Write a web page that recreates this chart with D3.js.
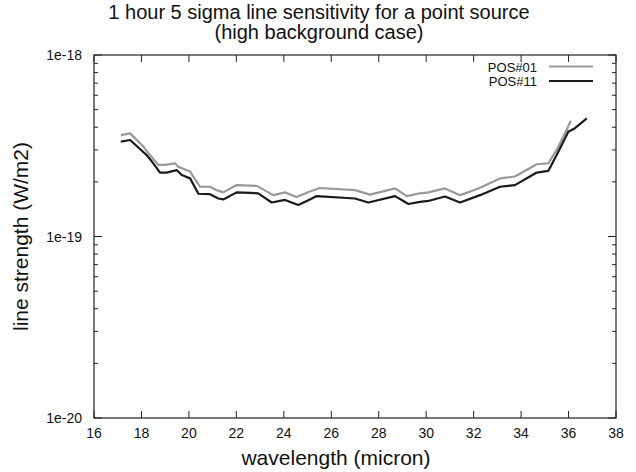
<!DOCTYPE html>
<html>
<head>
<meta charset="utf-8">
<script src="https://d3js.org/d3.v7.min.js"></script>
<style>
  body { margin: 0; background: #fff; }
  text { font-family: "Liberation Sans", Arial, sans-serif; fill: #111; }
</style>
</head>
<body>
<div id="svg_area"></div>
<script>
// wavelength (micron) and line strength (W/m2)
var pos01Wave = [17.13, 17.52, 18.08, 18.36, 18.71, 18.99, 19.41, 19.55, 20.05, 20.47, 20.89, 21.17, 21.45,
		 22.01, 22.86, 23.56, 24.05, 24.54, 25.10, 25.52, 27.00, 27.63, 28.69, 29.18, 29.74, 30.09,
		 30.79, 31.43, 32.20, 33.11, 33.74, 34.66, 35.15, 35.50, 35.92, 36.09];
var pos01Flux = [3.62e-19, 3.70e-19, 3.13e-19, 2.81e-19, 2.48e-19, 2.48e-19, 2.53e-19, 2.42e-19, 2.28e-19,
		 1.88e-19, 1.88e-19, 1.80e-19, 1.75e-19, 1.92e-19, 1.90e-19, 1.69e-19, 1.75e-19, 1.65e-19,
		 1.77e-19, 1.85e-19, 1.80e-19, 1.70e-19, 1.84e-19, 1.67e-19, 1.73e-19, 1.75e-19, 1.84e-19,
		 1.69e-19, 1.84e-19, 2.09e-19, 2.14e-19, 2.50e-19, 2.53e-19, 3.00e-19, 3.86e-19, 4.35e-19];

var pos11Wave = [17.13, 17.52, 17.80, 18.22, 18.50, 18.78, 19.06, 19.49, 19.70, 20.05, 20.40, 20.89, 21.24,
		 21.45, 22.01, 22.92, 23.49, 24.05, 24.61, 25.10, 25.39, 27.00, 27.56, 28.69, 29.25, 29.74,
		 30.09, 30.79, 31.43, 32.27, 33.11, 33.74, 34.66, 35.15, 35.50, 35.99, 36.27, 36.77];
var pos11Flux = [3.33e-19, 3.40e-19, 3.15e-19, 2.81e-19, 2.53e-19, 2.25e-19, 2.25e-19, 2.32e-19, 2.18e-19,
		 2.09e-19, 1.72e-19, 1.71e-19, 1.62e-19, 1.60e-19, 1.75e-19, 1.73e-19, 1.54e-19, 1.59e-19,
		 1.49e-19, 1.60e-19, 1.67e-19, 1.62e-19, 1.54e-19, 1.67e-19, 1.51e-19, 1.55e-19, 1.57e-19,
		 1.66e-19, 1.54e-19, 1.69e-19, 1.88e-19, 1.92e-19, 2.25e-19, 2.30e-19, 2.81e-19, 3.78e-19,
		 3.95e-19, 4.48e-19];

var xTicks = [16, 18, 20, 22, 24, 26, 28, 30, 32, 34, 36, 38];
var yTicks = [1e-20, 1e-19, 1e-18];
var yTickLabels = ["1e-20", "1e-19", "1e-18"];
var seriesNames = ["POS#01", "POS#11"];

var svg = d3.select('#svg_area').append("svg").attr("width", 636).attr("height", 472),
    margin = {top: 55, right: 20, bottom: 54, left: 94},
    width = 636 - margin.left - margin.right,
    height = 472 - margin.top - margin.bottom,
    g = svg.append("g").attr("transform", "translate(" + margin.left + "," + margin.top + ")");

var x = d3.scaleLinear().domain([16, 38]).range([0, width]);
var y = d3.scaleLog().domain([1e-20, 1e-18]).range([height, 0]);

// minor ticks for the log axis
var minor = [];
[1e-20, 1e-19].forEach(function(dec) {
    for (var k = 2; k <= 9; k++) minor.push(dec * k);
});

var line = d3.line()
    .x(function(d) { return x(d[0]); })
    .y(function(d) { return y(d[1]); });

// ticks (gnuplot style, pointing inward on all four sides)
var tickColor = "#222";
g.selectAll(".xt").data(xTicks).enter().append("line")
    .attr("x1", function(d) { return x(d); }).attr("x2", function(d) { return x(d); })
    .attr("y1", height).attr("y2", height - 7)
    .attr("stroke", tickColor);
g.selectAll(".xtt").data(xTicks).enter().append("line")
    .attr("x1", function(d) { return x(d); }).attr("x2", function(d) { return x(d); })
    .attr("y1", 0).attr("y2", 7)
    .attr("stroke", tickColor);

g.selectAll(".ym").data(yTicks).enter().append("line")
    .attr("x1", 0).attr("x2", 8)
    .attr("y1", function(d) { return y(d); }).attr("y2", function(d) { return y(d); })
    .attr("stroke", tickColor);
g.selectAll(".ymr").data(yTicks).enter().append("line")
    .attr("x1", width).attr("x2", width - 8)
    .attr("y1", function(d) { return y(d); }).attr("y2", function(d) { return y(d); })
    .attr("stroke", tickColor);
g.selectAll(".yn").data(minor).enter().append("line")
    .attr("x1", 0).attr("x2", 4)
    .attr("y1", function(d) { return y(d); }).attr("y2", function(d) { return y(d); })
    .attr("stroke", tickColor);
g.selectAll(".ynr").data(minor).enter().append("line")
    .attr("x1", width).attr("x2", width - 4)
    .attr("y1", function(d) { return y(d); }).attr("y2", function(d) { return y(d); })
    .attr("stroke", tickColor);

// tick labels
g.selectAll(".xl").data(xTicks).enter().append("text")
    .attr("x", function(d) { return x(d); })
    .attr("y", height + 20)
    .attr("text-anchor", "middle")
    .style("font-size", "14px")
    .text(function(d) { return d; });
g.selectAll(".yl").data(yTicks).enter().append("text")
    .attr("x", -12)
    .attr("y", function(d) { return y(d) + 5; })
    .attr("text-anchor", "end")
    .style("font-size", "14px")
    .text(function(d, i) { return yTickLabels[i]; });

// border
g.append("rect")
    .attr("width", width).attr("height", height)
    .attr("fill", "none").attr("stroke", "#222").attr("stroke-width", 1.2);

// data lines
g.append("path")
    .datum(d3.zip(pos01Wave, pos01Flux))
    .attr("fill", "none")
    .attr("stroke", "#999")
    .attr("stroke-linejoin", "round")
    .attr("stroke-width", 2.2)
    .attr("d", line);
g.append("path")
    .datum(d3.zip(pos11Wave, pos11Flux))
    .attr("fill", "none")
    .attr("stroke", "#1a1a1a")
    .attr("stroke-linejoin", "round")
    .attr("stroke-width", 2.2)
    .attr("d", line);

// legend
var legColors = ["#999", "#1a1a1a"];
var leg = g.selectAll(".leg").data(seriesNames).enter().append("g")
    .attr("transform", function(d, i) { return "translate(0," + (11.5 + i * 14.5) + ")"; });
leg.append("text")
    .attr("x", 443).attr("y", 5)
    .attr("text-anchor", "end")
    .style("font-size", "13px")
    .text(function(d) { return d; });
leg.append("line")
    .attr("x1", 455).attr("x2", 499)
    .attr("y1", 0).attr("y2", 0)
    .attr("stroke", function(d, i) { return legColors[i]; })
    .attr("stroke-width", 2.2);

// titles
svg.append("text")
    .attr("x", 319).attr("y", 19)
    .attr("text-anchor", "middle")
    .style("font-size", "20px")
    .text("1 hour 5 sigma line sensitivity for a point source");
svg.append("text")
    .attr("x", 319).attr("y", 39)
    .attr("text-anchor", "middle")
    .style("font-size", "20px")
    .text("(high background case)");
svg.append("text")
    .attr("x", 336).attr("y", 465)
    .attr("text-anchor", "middle")
    .style("font-size", "21px")
    .text("wavelength (micron)");
svg.append("text")
    .attr("transform", "translate(28," + (margin.top + height / 2) + ") rotate(-90)")
    .attr("text-anchor", "middle")
    .style("font-size", "21px")
    .text("line strength (W/m2)");
</script>
</body>
</html>
